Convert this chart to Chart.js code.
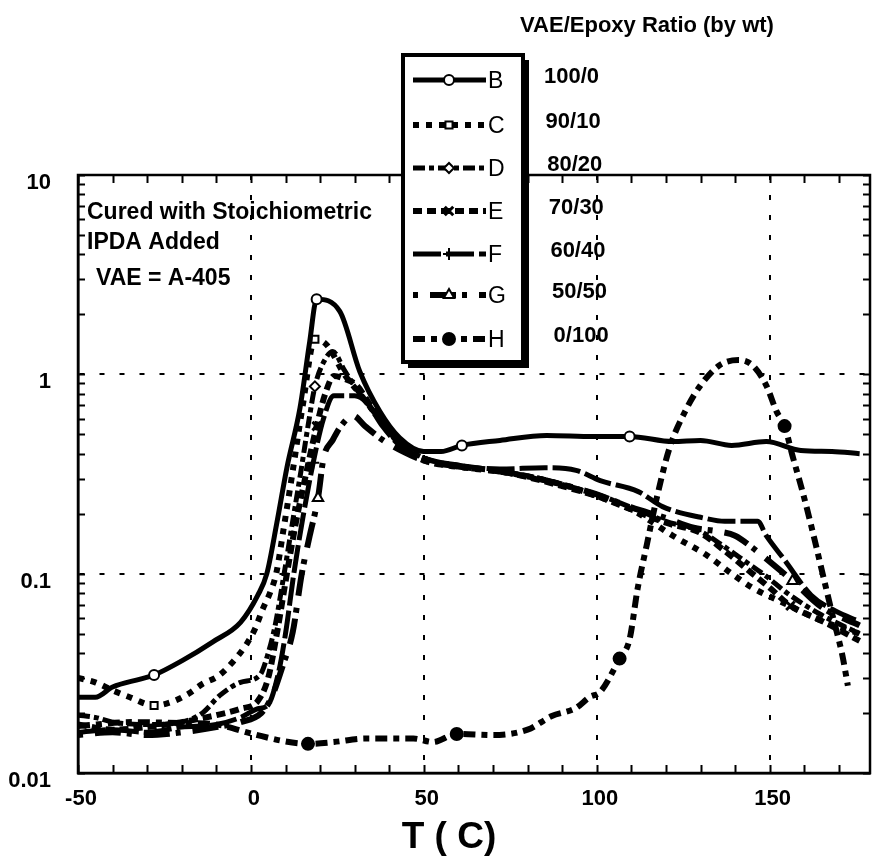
<!DOCTYPE html>
<html>
<head>
<meta charset="utf-8">
<script src="https://cdn.jsdelivr.net/npm/chart.js@4.4.0/dist/chart.umd.min.js"></script>
<style>
  body { margin: 0; background: #fff; }
  canvas { display: block; }
</style>
</head>
<body>
<canvas id="chart_vaeEpoxyTanDelta" width="874" height="858"></canvas>
<script>
// temperature (C) and value for each blend
const tB = [-50, -45, -40, -32, -28, -20, -11, -3, 2, 4.6, 7.5, 10.4, 14.2, 17, 19, 25.7, 31.5, 37.3, 43, 50, 55, 61, 72, 85.5, 99, 109.5, 122, 130, 139, 149, 159, 168, 176];
const vB = [0.024, 0.024, 0.027, 0.0296, 0.031, 0.0365, 0.0455, 0.057, 0.078, 0.1, 0.18, 0.34, 0.68, 1.46, 2.38, 2.07, 1.03, 0.65, 0.48, 0.41, 0.41, 0.44, 0.466, 0.494, 0.488, 0.488, 0.46, 0.466, 0.44, 0.46, 0.415, 0.41, 0.40];

const tC = [-50, -45, -40, -35, -28, -23, -18, -14, -9.5, -5, -1.2, 1.2, 3.5, 5.5, 7.3, 9.5, 12, 15, 18.5, 22, 27, 32, 37, 43, 50, 55, 62, 72, 81, 91, 100, 110, 122, 132, 139, 145, 155, 165, 176];
const vC = [0.03, 0.0285, 0.026, 0.024, 0.0218, 0.0227, 0.025, 0.028, 0.0306, 0.0365, 0.0445, 0.053, 0.067, 0.08, 0.1, 0.17, 0.32, 0.7, 1.5, 1.4, 1.0, 0.78, 0.6, 0.45, 0.38, 0.355, 0.34, 0.325, 0.305, 0.277, 0.245, 0.21, 0.155, 0.123, 0.1, 0.085, 0.07, 0.058, 0.05];

const tD = [-50, -45, -40, -30, -20, -14, -9, -3, 2.6, 5, 7, 9.6, 12, 14.5, 16.5, 18.5, 21, 23.7, 27, 31, 36, 42, 50, 60, 70, 80, 90, 100, 110, 120, 130, 136, 143, 149, 155, 165, 176];
const vD = [0.0195, 0.019, 0.018, 0.0175, 0.018, 0.02, 0.0245, 0.0285, 0.031, 0.04, 0.055, 0.1, 0.18, 0.33, 0.55, 0.87, 1.15, 1.3, 1.05, 0.82, 0.63, 0.47, 0.38, 0.35, 0.33, 0.31, 0.28, 0.25, 0.215, 0.183, 0.163, 0.14, 0.115, 0.097, 0.08, 0.062, 0.05];

const tE = [-50, -40, -30, -20, -10, -3, 2, 5, 7.5, 10.4, 13, 16, 19, 21.5, 24, 27, 30.6, 35, 40, 45, 50, 60, 70, 80, 90, 100, 110, 120, 130, 137, 145, 150, 156, 165, 176];
const vE = [0.0175, 0.0165, 0.017, 0.018, 0.0195, 0.021, 0.023, 0.03, 0.05, 0.1, 0.18, 0.32, 0.55, 0.8, 0.98, 0.95, 0.88, 0.68, 0.52, 0.42, 0.37, 0.345, 0.33, 0.305, 0.275, 0.245, 0.21, 0.18, 0.16, 0.13, 0.1, 0.085, 0.069, 0.058, 0.046];

const tF = [-50, -40, -30, -20, -10, -3, 2, 5, 8, 10, 12.4, 15, 18, 21, 24, 30, 33.5, 38, 43, 50, 60, 72, 85, 94, 101, 112, 119, 131, 137, 146.5, 149, 154, 162, 169, 176];
const vF = [0.016, 0.0165, 0.016, 0.017, 0.0175, 0.019, 0.021, 0.022, 0.032, 0.05, 0.1, 0.19, 0.36, 0.6, 0.78, 0.78, 0.72, 0.55, 0.44, 0.38, 0.35, 0.335, 0.34, 0.33, 0.293, 0.258, 0.217, 0.19, 0.183, 0.183, 0.155, 0.119, 0.078, 0.065, 0.0575];

const tG = [-50, -40, -30, -20, -10, -3, 3, 6, 9.2, 12.1, 14.7, 17, 19.4, 21, 23.7, 26, 29.5, 33, 38, 44, 50, 60, 72, 81, 91, 100, 110, 120, 128, 135, 140, 145, 150, 156.6, 165, 176];
const vG = [0.0155, 0.016, 0.0155, 0.016, 0.017, 0.018, 0.02, 0.024, 0.0345, 0.051, 0.1, 0.155, 0.24, 0.38, 0.47, 0.55, 0.62, 0.55, 0.47, 0.41, 0.37, 0.345, 0.325, 0.305, 0.277, 0.25, 0.215, 0.19, 0.17, 0.163, 0.155, 0.135, 0.115, 0.092, 0.068, 0.055];

const tH = [-50, -34, -20, -11, 0.6, 9, 16.5, 24, 33, 47, 52.6, 59.5, 70, 80, 87, 94, 98, 101, 106.6, 109.5, 111.8, 114.4, 117.3, 121, 126, 130, 135.5, 141, 145, 149, 152, 154.3, 156.6, 159.5, 162.4, 165.3, 168.2, 171, 172.6];
const vH = [0.0172, 0.018, 0.0178, 0.0176, 0.0157, 0.0145, 0.014, 0.0143, 0.0149, 0.0149, 0.0143, 0.0157, 0.0155, 0.0165, 0.0193, 0.0212, 0.0241, 0.0255, 0.0375, 0.047, 0.084, 0.138, 0.238, 0.425, 0.675, 0.88, 1.11, 1.18, 1.11, 0.88, 0.65, 0.55, 0.39, 0.258, 0.163, 0.1, 0.0615, 0.039, 0.0274];

const seriesNames = ['B', 'C', 'D', 'E', 'F', 'G', 'H'];
const ratioLabels = ['100/0', '90/10', '80/20', '70/30', '60/40', '50/50', '0/100'];
const xTickValues = [-50, 0, 50, 100, 150];
const yTickValues = [0.01, 0.1, 1, 10];

const FONT = '"Liberation Sans", Arial, Helvetica, sans-serif';

function series(label, xs, ys, marks, style) {
  return Object.assign({
    label: label,
    data: xs.map((x, i) => ({ x: x, y: ys[i] })),
    borderColor: '#000',
    pointBorderColor: '#000',
    pointBackgroundColor: '#fff',
    pointBorderWidth: 2,
    borderWidth: 6,
    fill: false,
    cubicInterpolationMode: 'monotone',
    marks: marks,
    pointRadius: (ctx) => (ctx.raw && marks.includes(ctx.raw.x)) ? (style.markerSize || 5) : 0
  }, style);
}

const datasets = [
  series(seriesNames[0], tB, vB, [-28, 19, 61, 109.5], { borderWidth: 5, borderDash: [], pointStyle: 'circle' }),
  series(seriesNames[1], tC, vC, [-28, 18.5], { borderDash: [6, 7], pointStyle: 'rect' }),
  series(seriesNames[2], tD, vD, [18.5], { borderWidth: 5, borderDash: [12, 4, 5, 4], pointStyle: 'rectRot' }),
  series(seriesNames[3], tE, vE, [19, 156], { borderDash: [9, 5], pointStyle: 'crossRot', pointBorderWidth: 3, markerSize: 6 }),
  series(seriesNames[4], tF, vF, [18], { borderWidth: 5, borderDash: [28, 5], pointStyle: 'cross', pointBorderWidth: 2, markerSize: 6 }),
  series(seriesNames[5], tG, vG, [19.4, 156.6], { borderDash: [5, 12, 26, 6], pointStyle: 'triangle', markerSize: 6 }),
  series(seriesNames[6], tH, vH, [16.5, 59.5, 106.6, 154.3], { borderDash: [12, 6, 6, 6], pointStyle: 'circle', pointBackgroundColor: '#000', markerSize: 6 })
];

// box, inward minor ticks, notes and the hand-placed legend
const framePlugin = {
  id: 'frame',
  afterDraw(chart) {
    const ctx = chart.ctx;
    const a = chart.chartArea;
    const xs = chart.scales.x, ys = chart.scales.y;
    ctx.save();
    ctx.strokeStyle = '#000';
    ctx.fillStyle = '#000';
    ctx.setLineDash([]);

    ctx.lineWidth = 2.5;
    ctx.strokeRect(a.left, a.top, a.right - a.left, a.bottom - a.top);

    ctx.lineWidth = 2;
    ctx.beginPath();
    for (let d = 0.01; d < 10; d *= 10) {
      for (let k = 1; k <= 10; k++) {
        const py = Math.round(ys.getPixelForValue(d * k)) + 0.5;
        const len = 7;
        ctx.moveTo(a.left, py); ctx.lineTo(a.left + len, py);
        ctx.moveTo(a.right, py); ctx.lineTo(a.right - len, py);
      }
    }
    for (let v = -50; v <= 179; v += 10) {
      const px = Math.round(xs.getPixelForValue(v)) + 0.5;
      ctx.moveTo(px, a.bottom); ctx.lineTo(px, a.bottom - 8);
      ctx.moveTo(px, a.top); ctx.lineTo(px, a.top + 8);
    }
    ctx.stroke();

    ctx.textBaseline = 'middle';
    ctx.textAlign = 'left';
    ctx.font = 'bold 23px ' + FONT;
    ctx.fillText('Cured with Stoichiometric', 87, 213);
    ctx.fillText('IPDA Added', 87, 243);
    ctx.fillText('VAE = A-405', 96, 279);

    ctx.textAlign = 'center';
    ctx.font = 'bold 37px ' + FONT;
    ctx.fillText('T ( C)', 449, 838);

    ctx.font = 'bold 22px ' + FONT;
    ctx.fillText('VAE/Epoxy Ratio (by wt)', 647, 26);

    // legend box with its drop shadow
    const bx = 403, by = 55, bw = 120, bh = 307;
    ctx.fillStyle = '#fff';
    ctx.fillRect(bx, by, bw, bh);
    ctx.fillStyle = '#000';
    ctx.fillRect(bx + bw, by + 5, 6, bh + 1);
    ctx.fillRect(bx + 5, by + bh, bw + 1, 6);
    ctx.lineWidth = 4;
    ctx.strokeRect(bx, by, bw, bh);

    const rowY = [80, 125, 168, 211, 254, 295, 339];
    chart.data.datasets.forEach((ds, i) => {
      const y = rowY[i];
      ctx.save();
      ctx.lineWidth = ds.borderWidth;
      ctx.setLineDash(ds.borderDash || []);
      ctx.beginPath();
      ctx.moveTo(413, y);
      ctx.lineTo(486, y);
      ctx.stroke();
      ctx.restore();
      ctx.save();
      ctx.fillStyle = ds.pointBackgroundColor;
      ctx.strokeStyle = '#000';
      ctx.lineWidth = ds.pointBorderWidth;
      Chart.helpers.drawPoint(ctx, {
        pointStyle: ds.pointStyle, radius: ds.markerSize || 5,
        borderWidth: ds.pointBorderWidth, rotation: 0
      }, 449, y);
      ctx.restore();

      ctx.textAlign = 'left';
      ctx.font = '23px ' + FONT;
      ctx.fillText(ds.label, 488, y + 2);
      ctx.font = 'bold 22px ' + FONT;
      ctx.fillText(ratioLabels[i], 544 + i * 1.6, y - 3);
    });
    ctx.restore();
  }
};

const whiteBackground = {
  id: 'whiteBackground',
  beforeDraw(chart) {
    const ctx = chart.canvas.getContext('2d');
    ctx.save();
    ctx.globalCompositeOperation = 'destination-over';
    ctx.fillStyle = 'white';
    ctx.fillRect(0, 0, chart.canvas.width, chart.canvas.height);
    ctx.restore();
  }
};

const gridAt = (values) => (ctx) =>
  (ctx.tick && values.includes(ctx.tick.value)) ? '#000' : 'rgba(0,0,0,0)';

const chart_vaeEpoxyTanDelta = new Chart(document.getElementById('chart_vaeEpoxyTanDelta'), {
  type: 'line',
  data: { datasets: datasets },
  options: {
    animation: false,
    responsive: false,
    events: [],
    layout: { padding: { top: 175, right: 4, left: 0, bottom: 0 } },
    plugins: {
      legend: { display: false },
      tooltip: { enabled: false },
      title: { display: false }
    },
    scales: {
      x: {
        type: 'linear',
        min: -50,
        max: 179,
        afterBuildTicks: (scale) => { scale.ticks = xTickValues.map(v => ({ value: v })); },
        afterFit: (scale) => { scale.height = 85; },
        grid: { color: gridAt([0, 50, 100, 150]), lineWidth: 2, drawTicks: false },
        border: { display: true, color: '#000', width: 2.5, dash: [5, 15] },
        ticks: {
          color: '#000',
          padding: 13,
          labelOffset: 3,
          maxRotation: 0,
          autoSkip: false,
          font: { family: FONT, size: 22, weight: 'bold' },
          callback: (v) => String(v)
        }
      },
      y: {
        type: 'logarithmic',
        min: 0.01,
        max: 10,
        afterBuildTicks: (scale) => { scale.ticks = yTickValues.map(v => ({ value: v })); },
        afterFit: (scale) => { scale.width = 78; },
        grid: { color: gridAt([0.1, 1]), lineWidth: 2, drawTicks: false },
        border: { display: true, color: '#000', width: 2.5, dash: [5, 15] },
        ticks: {
          color: '#000',
          padding: 27,
          labelOffset: 8,
          autoSkip: false,
          font: { family: FONT, size: 22, weight: 'bold' },
          callback: (v) => String(v)
        }
      }
    }
  },
  plugins: [whiteBackground, framePlugin]
});
</script>
</body>
</html>
